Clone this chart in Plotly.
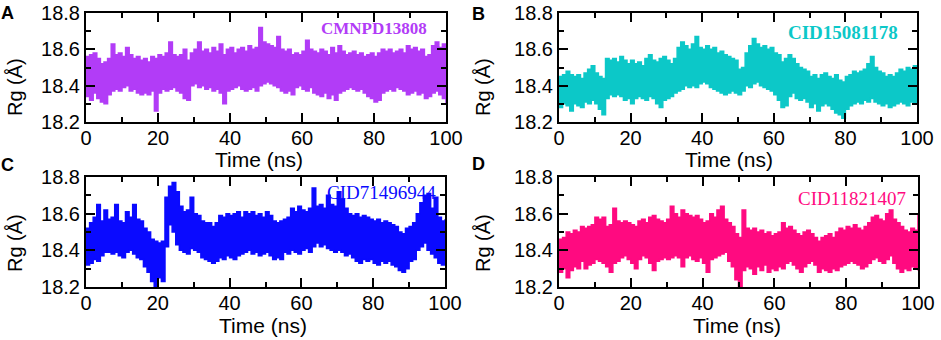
import plotly.graph_objects as go

# ---------------- data ----------------
time_ns = list(range(0, 101))

a_upper = [18.56, 18.57, 18.58, 18.55, 18.52, 18.53, 18.55, 18.63, 18.57, 18.58,
           18.56, 18.61, 18.57, 18.55, 18.56, 18.54, 18.55, 18.53, 18.56, 18.55,
           18.57, 18.56, 18.58, 18.64, 18.57, 18.56, 18.57, 18.60, 18.54, 18.58,
           18.60, 18.64, 18.59, 18.60, 18.58, 18.61, 18.59, 18.63, 18.57, 18.60,
           18.61, 18.58, 18.60, 18.61, 18.59, 18.62, 18.60, 18.61, 18.72, 18.64,
           18.63, 18.62, 18.61, 18.67, 18.60, 18.59, 18.60, 18.57, 18.58, 18.57,
           18.59, 18.65, 18.60, 18.59, 18.58, 18.60, 18.59, 18.57, 18.61, 18.58,
           18.62, 18.59, 18.57, 18.58, 18.59, 18.57, 18.58, 18.56, 18.57, 18.58,
           18.56, 18.58, 18.60, 18.59, 18.60, 18.58, 18.59, 18.60, 18.58, 18.62,
           18.60, 18.61, 18.59, 18.60, 18.56, 18.57, 18.62, 18.64, 18.61, 18.63, 18.60]
a_lower = [18.34, 18.32, 18.36, 18.33, 18.31, 18.30, 18.35, 18.37, 18.38, 18.37,
           18.39, 18.40, 18.37, 18.38, 18.36, 18.35, 18.36, 18.35, 18.37, 18.26,
           18.36, 18.38, 18.37, 18.38, 18.39, 18.37, 18.36, 18.33, 18.32, 18.40,
           18.41, 18.39, 18.40, 18.38, 18.39, 18.37, 18.38, 18.36, 18.30, 18.37,
           18.38, 18.39, 18.40, 18.38, 18.37, 18.38, 18.39, 18.37, 18.40, 18.41,
           18.42, 18.41, 18.40, 18.39, 18.37, 18.36, 18.37, 18.35, 18.39, 18.40,
           18.38, 18.37, 18.39, 18.36, 18.35, 18.34, 18.36, 18.33, 18.35, 18.32,
           18.36, 18.37, 18.38, 18.39, 18.38, 18.37, 18.38, 18.36, 18.34, 18.33,
           18.31, 18.32, 18.36, 18.37, 18.38, 18.37, 18.39, 18.38, 18.37, 18.35,
           18.36, 18.37, 18.35, 18.36, 18.33, 18.34, 18.36, 18.37, 18.35, 18.33, 18.30]

b_upper = [18.45, 18.46, 18.48, 18.46, 18.45, 18.46, 18.44, 18.47, 18.49, 18.51,
           18.47, 18.45, 18.44, 18.55, 18.54, 18.55, 18.53, 18.56, 18.54, 18.52,
           18.54, 18.52, 18.53, 18.51, 18.55, 18.57, 18.54, 18.53, 18.55, 18.56,
           18.54, 18.52, 18.55, 18.61, 18.64, 18.62, 18.60, 18.63, 18.67, 18.61,
           18.60, 18.62, 18.60, 18.61, 18.58, 18.59, 18.57, 18.56, 18.55, 18.54,
           18.49, 18.50, 18.58, 18.62, 18.66, 18.63, 18.61, 18.62, 18.60, 18.61,
           18.58, 18.57, 18.53, 18.55, 18.57, 18.55, 18.52, 18.50, 18.49, 18.48,
           18.45, 18.46, 18.44, 18.46, 18.47, 18.45, 18.44, 18.46, 18.43, 18.42,
           18.45, 18.46, 18.48, 18.47, 18.48, 18.49, 18.52, 18.56, 18.50, 18.48,
           18.47, 18.45, 18.46, 18.45, 18.47, 18.49, 18.48, 18.50, 18.49, 18.51, 18.50]
b_lower = [18.28, 18.30, 18.29, 18.26, 18.30, 18.29, 18.28, 18.31, 18.30, 18.32,
           18.30, 18.27, 18.24, 18.33, 18.35, 18.34, 18.35, 18.34, 18.32, 18.33,
           18.30, 18.33, 18.34, 18.33, 18.32, 18.34, 18.33, 18.30, 18.28, 18.32,
           18.33, 18.34, 18.36, 18.37, 18.38, 18.40, 18.39, 18.40, 18.39, 18.41,
           18.42, 18.41, 18.39, 18.38, 18.37, 18.36, 18.35, 18.36, 18.37, 18.36,
           18.35, 18.37, 18.40, 18.39, 18.41, 18.42, 18.40, 18.39, 18.38, 18.37,
           18.35, 18.32, 18.28, 18.29, 18.34, 18.36, 18.33, 18.32, 18.33, 18.31,
           18.28, 18.30, 18.26, 18.29, 18.30, 18.29, 18.27, 18.25, 18.24, 18.22,
           18.27, 18.29, 18.30, 18.31, 18.30, 18.32, 18.31, 18.33, 18.31, 18.30,
           18.29, 18.30, 18.28, 18.29, 18.30, 18.31, 18.30, 18.29, 18.31, 18.30, 18.32]

c_upper = [18.52, 18.55, 18.58, 18.65, 18.56, 18.62, 18.57, 18.58, 18.65, 18.56,
           18.55, 18.61, 18.58, 18.65, 18.57, 18.56, 18.52, 18.50, 18.46, 18.45,
           18.44, 18.45, 18.69, 18.75, 18.77, 18.72, 18.64, 18.61, 18.62, 18.69,
           18.60, 18.59, 18.56, 18.55, 18.55, 18.53, 18.55, 18.59, 18.58, 18.60,
           18.59, 18.60, 18.61, 18.58, 18.61, 18.60, 18.61, 18.59, 18.60, 18.58,
           18.61, 18.59, 18.56, 18.55, 18.56, 18.57, 18.58, 18.63, 18.61, 18.64,
           18.62, 18.61, 18.63, 18.74, 18.64, 18.65, 18.63, 18.70, 18.65, 18.64,
           18.72, 18.68, 18.63, 18.60, 18.59, 18.60, 18.58, 18.59, 18.58, 18.57,
           18.56, 18.57, 18.55, 18.56, 18.55, 18.54, 18.53, 18.50, 18.49, 18.52,
           18.53, 18.55, 18.60, 18.66, 18.70, 18.71, 18.63, 18.69, 18.58, 18.56, 18.57]
c_lower = [18.32, 18.33, 18.35, 18.34, 18.37, 18.39, 18.39, 18.38, 18.39, 18.37,
           18.36, 18.39, 18.40, 18.38, 18.36, 18.35, 18.31, 18.28, 18.23, 18.20,
           18.25, 18.23, 18.42, 18.54, 18.50, 18.43, 18.40, 18.39, 18.38, 18.41,
           18.40, 18.39, 18.36, 18.35, 18.34, 18.33, 18.34, 18.36, 18.35, 18.37,
           18.36, 18.35, 18.37, 18.38, 18.39, 18.40, 18.38, 18.39, 18.37, 18.38,
           18.39, 18.37, 18.35, 18.36, 18.35, 18.39, 18.38, 18.40, 18.39, 18.38,
           18.40, 18.41, 18.39, 18.42, 18.44, 18.42, 18.43, 18.41, 18.40, 18.39,
           18.40, 18.39, 18.37, 18.38, 18.36, 18.34, 18.33, 18.35, 18.34, 18.35,
           18.33, 18.32, 18.34, 18.33, 18.34, 18.32, 18.31, 18.29, 18.28, 18.30,
           18.34, 18.35, 18.40, 18.42, 18.44, 18.40, 18.38, 18.36, 18.33, 18.32, 18.35]

d_upper = [18.46, 18.47, 18.50, 18.49, 18.51, 18.50, 18.53, 18.52, 18.53, 18.54,
           18.58, 18.57, 18.58, 18.53, 18.54, 18.63, 18.56, 18.55, 18.56, 18.55,
           18.54, 18.53, 18.56, 18.57, 18.55, 18.58, 18.59, 18.57, 18.56, 18.55,
           18.57, 18.64, 18.60, 18.58, 18.62, 18.60, 18.59, 18.58, 18.59, 18.57,
           18.55, 18.56, 18.60, 18.58, 18.62, 18.64, 18.57, 18.55, 18.53, 18.49,
           18.47, 18.62, 18.52, 18.51, 18.52, 18.50, 18.51, 18.49, 18.50, 18.48,
           18.49, 18.50, 18.55, 18.52, 18.53, 18.51, 18.49, 18.48, 18.50, 18.51,
           18.49, 18.47, 18.45, 18.47, 18.48, 18.49, 18.47, 18.50, 18.52, 18.51,
           18.53, 18.52, 18.54, 18.52, 18.51, 18.53, 18.55, 18.58, 18.59, 18.57,
           18.56, 18.60, 18.62, 18.57, 18.55, 18.53, 18.51, 18.50, 18.52, 18.51, 18.60]
d_lower = [18.28, 18.30, 18.25, 18.29, 18.31, 18.30, 18.34, 18.30, 18.32, 18.33,
           18.35, 18.34, 18.33, 18.31, 18.28, 18.33, 18.34, 18.36, 18.37, 18.35,
           18.33, 18.30, 18.35, 18.37, 18.36, 18.33, 18.29, 18.34, 18.35, 18.36,
           18.35, 18.36, 18.37, 18.36, 18.31, 18.36, 18.37, 18.35, 18.34, 18.36,
           18.33, 18.28, 18.35, 18.36, 18.37, 18.38, 18.39, 18.34, 18.31, 18.24,
           18.20, 18.29, 18.31, 18.30, 18.27, 18.31, 18.29, 18.32, 18.28, 18.30,
           18.29, 18.31, 18.30, 18.33, 18.34, 18.32, 18.30, 18.28, 18.31, 18.33,
           18.34, 18.32, 18.28, 18.30, 18.29, 18.28, 18.30, 18.29, 18.31, 18.32,
           18.33, 18.34, 18.33, 18.32, 18.30, 18.31, 18.33, 18.35, 18.36, 18.34,
           18.33, 18.35, 18.37, 18.33, 18.30, 18.28, 18.30, 18.29, 18.31, 18.30, 18.29]

panel_letters = ["A", "B", "C", "D"]
compound_names = ["CMNPD13808", "CID15081178", "CID71496944", "CID11821407"]
x_tick_vals = [0, 20, 40, 60, 80, 100]
y_tick_vals = [18.2, 18.4, 18.6, 18.8]

# ---------------- styling ----------------
W, H = 941, 340
colors = ["#B23CF7", "#0CC8C8", "#0A0AFF", "#FF0A80"]
name_bold = [True, True, False, False]
name_size = [17, 19, 19, 19]
# plot areas in pixels: (left, right, top, bottom)
boxes = [(86, 446, 13, 122), (559, 917, 13, 122),
         (86, 445, 177, 287), (559, 918, 177, 287)]
name_pos = [(429, 28), (900, 33), (438, 192), (908, 198)]
letter_pos = [(8, 13), (478, 14), (8, 165), (478, 164)]
xtitle_pos = [(259, 159), (729, 159), (263, 325), (737, 325)]
ytitle_pos = [(15, 87), (483, 87), (15, 243), (483, 243)]


def px(x):
    return x / W


def py(y):
    return 1 - y / H


series = [(a_upper, a_lower), (b_upper, b_lower), (c_upper, c_lower), (d_upper, d_lower)]

fig = go.Figure()
annotations = []
layout = dict(template="none", width=W, height=H,
              margin=dict(l=0, r=0, t=0, b=0, autoexpand=False),
              paper_bgcolor="white", plot_bgcolor="white", showlegend=False,
              font=dict(family="Liberation Sans, Arial", color="black", size=20))

for k, ((up, lo), col, box) in enumerate(zip(series, colors, boxes)):
    sfx = "" if k == 0 else str(k + 1)
    fig.add_trace(go.Scatter(x=time_ns, y=lo, mode="lines",
                             line=dict(color=col, width=1.5, shape="hv"),
                             xaxis="x" + sfx, yaxis="y" + sfx, hoverinfo="skip"))
    fig.add_trace(go.Scatter(x=time_ns, y=up, mode="lines", fill="tonexty",
                             fillcolor=col,
                             line=dict(color=col, width=1.5, shape="hv"),
                             xaxis="x" + sfx, yaxis="y" + sfx, hoverinfo="skip"))
    left, right, top, bottom = box
    common = dict(showline=True, linecolor="black", linewidth=2, mirror="allticks",
                  ticks="inside", ticklen=9, tickwidth=2, tickcolor="black",
                  showgrid=False, zeroline=False, automargin=False,
                  tickfont=dict(family="Liberation Sans, Arial", size=20, color="black"))
    layout["xaxis" + sfx] = dict(common, domain=[px(left), px(right)], range=[0, 100],
                                 tickvals=x_tick_vals, ticklabelstandoff=-3,
                                 minor=dict(dtick=10, ticks="inside", ticklen=5,
                                            tickwidth=2, tickcolor="black", showgrid=False),
                                 anchor="y" + sfx)
    layout["yaxis" + sfx] = dict(common, domain=[py(bottom), py(top)],
                                 range=[18.2, 18.8], tickvals=y_tick_vals,
                                 tickformat=".1f",
                                 minor=dict(dtick=0.1, ticks="inside", ticklen=5,
                                            tickwidth=2, tickcolor="black", showgrid=False),
                                 anchor="x" + sfx)
    tx, ty = xtitle_pos[k]
    annotations.append(dict(text="Time (ns)", x=px(tx), y=py(ty),
                            xref="paper", yref="paper", showarrow=False,
                            xanchor="center", yanchor="middle",
                            font=dict(family="Liberation Sans, Arial", size=21, color="black")))
    rx, ry = ytitle_pos[k]
    annotations.append(dict(text="Rg (Å)", x=px(rx), y=py(ry),
                            xref="paper", yref="paper", showarrow=False, textangle=-90,
                            xanchor="center", yanchor="middle",
                            font=dict(family="Liberation Sans, Arial", size=20, color="black")))
    lx, ly = letter_pos[k]
    annotations.append(dict(text="<b>%s</b>" % panel_letters[k], x=px(lx), y=py(ly),
                            xref="paper", yref="paper", showarrow=False,
                            xanchor="center", yanchor="middle",
                            font=dict(family="Liberation Sans, Arial", size=18, color="black")))
    nx, ny = name_pos[k]
    txt = compound_names[k]
    if name_bold[k]:
        txt = "<b>%s</b>" % txt
    annotations.append(dict(text=txt, x=px(nx), y=py(ny),
                            xref="paper", yref="paper", showarrow=False,
                            xanchor="right", yanchor="middle",
                            font=dict(family="Liberation Serif, Times New Roman",
                                      size=name_size[k], color=col)))

layout["annotations"] = annotations
fig.update_layout(**layout)
# remove the default 8 px page margin so the figure fills the window exactly
fig.write_html("out.html", config={"displayModeBar": False},
               post_script="document.body.style.margin='0';document.body.style.overflow='hidden';")
